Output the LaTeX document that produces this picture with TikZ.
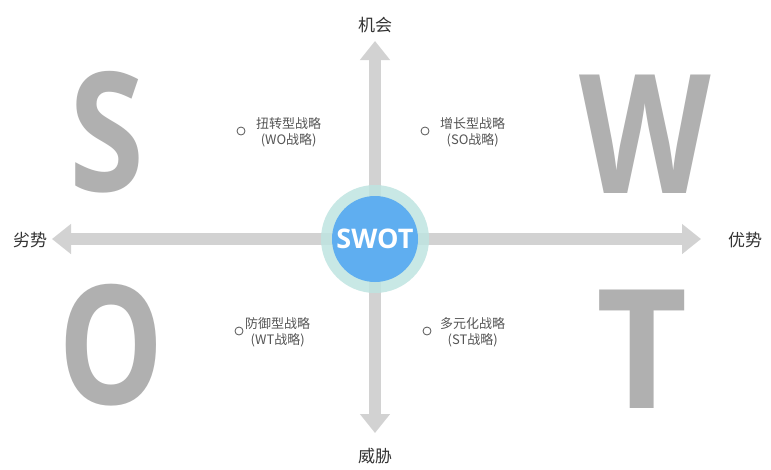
\documentclass[tikz,border=0pt]{standalone}
\usepackage{fontspec}
\setmainfont{Open Sans}
\newfontfamily\cjk{Noto Sans CJK SC}
\newfontfamily\bigsans{Open Sans}[UprightFont=* Bold]
\usetikzlibrary{arrows.meta}
\definecolor{axisgray}{HTML}{D2D2D2}
\definecolor{lettergray}{HTML}{B0B0B0}
\definecolor{ringteal}{HTML}{BFE4E1}
\definecolor{swotblue}{HTML}{5FAEF0}
\definecolor{textgray}{HTML}{555555}
\definecolor{labelgray}{HTML}{333333}
\tikzset{
  axisline/.style={draw=axisgray,line width=12pt,-{Triangle[width=29pt,length=19pt]}},
  bigletter/.style={font=\bigsans\fontsize{166}{166}\selectfont,text=lettergray,inner sep=0pt,anchor=base},
  dirlabel/.style={font=\cjk\fontsize{17}{20}\selectfont,text=labelgray,inner sep=0pt},
  stratlabel/.style={font=\cjk\fontsize{13}{16}\selectfont,text=textgray,inner sep=0pt,align=center,anchor=west},
  bullet/.style={circle,draw=textgray,line width=0.8pt,minimum size=8pt,inner sep=0pt},
}
\begin{document}
\begin{tikzpicture}[x=1pt,y=-1pt]
\useasboundingbox[fill=white] (0,0) rectangle (771,469);
% center
\coordinate (ctr) at (375,239);
\coordinate (east) at (701,239);
\coordinate (west) at (52,239);
\coordinate (north) at (375,41);
\coordinate (south) at (375,433);
\draw[axisline] (ctr) -- (east);
\draw[axisline] (ctr) -- (west);
\draw[axisline] (ctr) -- (north);
\draw[axisline] (ctr) -- (south);
\node[circle,fill=ringteal,fill opacity=0.85,minimum size=108pt,inner sep=0pt] (ring) at (ctr) {};
\node[circle,fill=swotblue,minimum size=86pt,inner sep=0pt,text=white,font=\bigsans\fontsize{27}{27}\selectfont] (swot) at (ctr) {SWOT};
% direction labels
\node[dirlabel] (lblN) at (375,25) {机会};
\node[dirlabel] (lblS) at (375,456) {威胁};
\node[dirlabel] (lblW) at (30,240) {劣势};
\node[dirlabel] (lblE) at (745,240) {优势};
% big letters
\node[bigletter] (S) at (107,191) {\scalebox{0.82}[1]{S}};
\node[bigletter] (W) at (645,193) {\scalebox{0.82}[1]{W}};
\node[bigletter] (O) at (111,404) {\scalebox{0.8}[1]{O}};
\node[bigletter] (T) at (642,408) {\scalebox{0.95}[1]{T}};
% strategies
\node[bullet] (b1) at (241,131) {};
\node[stratlabel] (t1) at (256,132) {扭转型战略\\(WO战略)};
\node[bullet] (b2) at (425,131) {};
\node[stratlabel] (t2) at (440,132) {增长型战略\\(SO战略)};
\node[bullet] (b3) at (239,331) {};
\node[stratlabel] (t3) at (245,332) {防御型战略\\(WT战略)};
\node[bullet] (b4) at (427,331) {};
\node[stratlabel] (t4) at (440,332) {多元化战略\\(ST战略)};
\end{tikzpicture}
\end{document}
